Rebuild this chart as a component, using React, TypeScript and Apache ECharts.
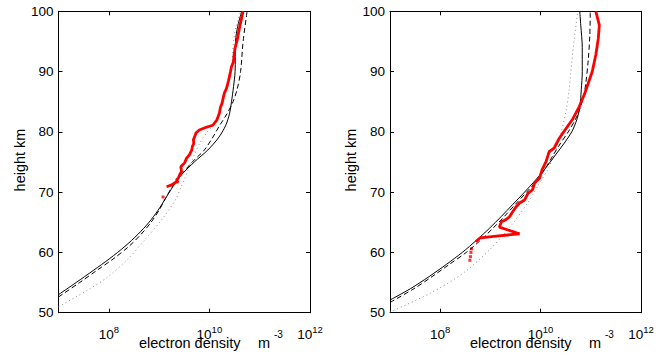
import React, { useEffect, useRef } from "react";
import * as echarts from "echarts";

// ---- data: [electron density m^-3, height km] ----
const leftSolid: [number, number][] = [
  [1.0e7, 53.0], [2.24e7, 55.0], [4.9e7, 57.0], [1.05e8, 59.0], [2.09e8, 61.0],
  [3.8e8, 63.0], [6.31e8, 65.0], [9.55e8, 67.0], [1.35e9, 69.0], [1.91e9, 71.0],
  [2.88e9, 73.0], [5.01e9, 75.0], [9.33e9, 77.0], [1.51e10, 79.0], [2.09e10, 81.0],
  [2.51e10, 83.0], [2.75e10, 85.0], [3.02e10, 87.5], [3.24e10, 90.0], [3.3e10, 95.0],
  [3.7e10, 97.7], [4.4e10, 100.0],
];
const leftDashed: [number, number][] = [
  [1.0e7, 52.6], [1.17e7, 53.0], [2.63e7, 55.0], [5.75e7, 57.0], [1.26e8, 59.0],
  [2.51e8, 61.0], [4.37e8, 63.0], [6.92e8, 65.0], [1.0e9, 67.0], [1.35e9, 69.0],
  [1.86e9, 71.0], [2.82e9, 73.0], [4.57e9, 75.0], [7.94e9, 77.0], [1.15e10, 79.0],
  [1.58e10, 81.0], [2.24e10, 83.0], [2.95e10, 85.0], [3.55e10, 87.0], [4.17e10, 90.0],
  [4.68e10, 95.0], [5.62e10, 100.0],
];
const leftDotted: [number, number][] = [
  [1.0e7, 51.0], [3.9e7, 53.8], [9.8e7, 56.0], [2.45e8, 59.0], [5.2e8, 62.1],
  [1.12e9, 65.4], [2.1e9, 68.7], [2.75e9, 70.9], [3.16e9, 72.0], [3.89e9, 74.0],
  [4.9e9, 76.0], [6.31e9, 78.0], [9.12e9, 80.0], [1.15e10, 81.0], [1.45e10, 82.5],
  [1.74e10, 85.0], [2.69e10, 90.0], [3.02e10, 95.0], [3.39e10, 97.5], [4.17e10, 100.0],
];
const leftRed: [number, number][] = [
  [1.41e9, 70.9], [1.78e9, 71.2], [2.1e9, 71.6], [2.4e9, 71.7], [2.2e9, 72.0],
  [2.4e9, 72.3], [2.6e9, 73.0], [2.8e9, 73.4], [2.7e9, 74.2], [3.24e9, 74.9],
  [3.5e9, 75.6], [4.0e9, 76.2], [4.47e9, 77.0], [4.6e9, 77.6], [4.9e9, 78.1],
  [4.8e9, 78.7], [5.1e9, 79.2], [5.4e9, 79.8], [6.3e9, 80.3], [8.9e9, 80.8],
  [1.17e10, 81.1], [1.41e10, 82.0], [1.5e10, 82.6], [1.58e10, 83.1], [1.65e10, 84.0],
  [1.78e10, 84.7], [1.9e10, 85.8], [2.0e10, 86.5], [2.19e10, 87.2], [2.4e10, 88.5],
  [2.63e10, 90.0], [2.75e10, 90.8], [3.0e10, 91.6], [3.1e10, 92.8], [3.24e10, 93.9],
  [3.63e10, 95.5], [3.8e10, 96.5], [4.07e10, 97.7], [4.4e10, 99.0], [4.68e10, 100.0],
];
const leftRedDots: [number, number][] = [[1.2e9, 69.2]];

const rightSolid: [number, number][] = [
  [1.0e7, 52.1], [2.57e7, 54.0], [6.03e7, 56.0], [1.32e8, 58.0], [2.75e8, 60.0],
  [5.25e8, 62.0], [9.55e8, 64.0], [1.66e9, 66.0], [2.82e9, 68.0], [4.79e9, 70.0],
  [7.94e9, 72.0], [1.26e10, 74.0], [1.91e10, 76.0], [2.88e10, 78.0], [4.17e10, 80.0],
  [5.25e10, 82.0], [6.03e10, 84.0], [6.46e10, 87.0], [6.76e10, 90.0], [6.76e10, 94.0],
  [6.31e10, 97.7], [6.03e10, 100.0],
];
const rightDashed: [number, number][] = [
  [1.0e7, 51.7], [3.02e7, 54.0], [6.92e7, 56.0], [1.51e8, 58.0], [3.31e8, 60.0],
  [6.31e8, 62.0], [1.12e9, 64.0], [1.91e9, 66.0], [3.16e9, 68.0], [5.25e9, 70.0],
  [8.51e9, 72.0], [1.26e10, 74.0], [1.74e10, 76.0], [2.45e10, 78.0], [3.55e10, 80.0],
  [4.9e10, 82.0], [6.17e10, 84.0], [7.24e10, 86.0], [7.94e10, 88.0], [8.91e10, 92.0],
  [9.55e10, 96.0], [9.77e10, 100.0],
];
const rightDotted: [number, number][] = [
  [1.0e7, 50.1], [6.2e7, 53.2], [2.8e8, 56.5], [9.5e8, 60.4], [2.8e9, 64.8],
  [6.0e9, 68.7], [9.5e9, 71.5], [1.48e10, 74.2], [2.34e10, 78.7], [3.24e10, 83.6],
  [3.7e10, 87.0], [4.0e10, 90.0], [4.7e10, 95.5], [5.5e10, 100.0],
];
const rightRed: [number, number][] = [
  [5.1e8, 61.8], [6.2e8, 62.4], [1.32e9, 62.7], [3.8e9, 63.1], [1.51e9, 64.2],
  [1.66e9, 65.1], [2.0e9, 65.4], [2.4e9, 65.9], [2.8e9, 66.8], [3.2e9, 67.5],
  [3.8e9, 68.2], [4.8e9, 68.7], [5.6e9, 69.8], [6.9e9, 70.4], [7.6e9, 71.5],
  [9.5e9, 72.3], [1.07e10, 73.7], [1.29e10, 75.1], [1.48e10, 76.7], [1.86e10, 77.3],
  [2.34e10, 78.9], [3.24e10, 80.6], [4.27e10, 82.0], [5.9e10, 84.2], [7.6e10, 86.4],
  [1.07e11, 90.0], [1.26e11, 92.8], [1.41e11, 95.5], [1.48e11, 97.7], [1.26e11, 100.0],
];
const rightRedDots: [number, number][] = [
  [3.9e8, 58.7], [4.0e8, 59.3], [4.1e8, 60.0], [4.2e8, 60.6],
];

const xTickValues = [1e8, 1e10, 1e12];
const yTicks = { min: 50, max: 100, interval: 10 };
const xRange = { min: 1e7, max: 1e12 };

const FONT = "'Liberation Sans', Arial, Helvetica, sans-serif";

export default function App() {
  const ref = useRef<HTMLDivElement>(null);
  useEffect(() => {
    if (!ref.current) return;
    const chart = echarts.init(ref.current, null, { renderer: "svg" });
    const grids = [
      { left: 58.5, top: 11.3, width: 251.5, height: 301.4 },
      { left: 390, top: 11.3, width: 251, height: 301.4 },
    ];
    const xAxes: any[] = [];
    const yAxes: any[] = [];
    grids.forEach((_, gi) => {
      ["bottom", "top"].forEach((pos) => {
        xAxes.push({
          type: "log",
          logBase: 10,
          gridIndex: gi,
          position: pos,
          min: xRange.min,
          max: xRange.max,
          axisLine: { show: true, onZero: false, lineStyle: { color: "#000", width: 1 } },
          axisTick: { show: true, inside: true, length: 4, customValues: xTickValues, lineStyle: { color: "#000" } },
          splitLine: { show: false },
          minorTick: { show: false },
          axisLabel: {
            show: pos === "bottom",
            customValues: xTickValues,
            margin: 12,
            formatter: (v: number) => `{b|10}{s|${Math.round(Math.log10(v))}}`,
            rich: {
              b: { fontSize: 13.5, fontFamily: FONT, color: "#000", lineHeight: 12, verticalAlign: "bottom" },
              s: { fontSize: 9.5, fontFamily: FONT, color: "#000", padding: [0, 0, 7, 0], verticalAlign: "top" },
            },
          },
        });
      });
      ["left", "right"].forEach((pos) => {
        yAxes.push({
          type: "value",
          gridIndex: gi,
          position: pos,
          min: yTicks.min,
          max: yTicks.max,
          interval: yTicks.interval,
          axisLine: { show: true, onZero: false, lineStyle: { color: "#000", width: 1 } },
          axisTick: { show: true, inside: true, length: 4, lineStyle: { color: "#000" } },
          splitLine: { show: false },
          axisLabel: {
            show: pos === "left",
            margin: 5,
            fontSize: 13.5,
            fontFamily: FONT,
            color: "#000",
          },
        });
      });
    });

    const mk = (gi: number, solid: any, dashed: any, dotted: any, red: any, dots: any) => {
      const ax = { xAxisIndex: gi * 2, yAxisIndex: gi * 2 };
      return [
        { type: "line", ...ax, data: dotted, showSymbol: false, smooth: 0.3, lineStyle: { color: "#8a8a8a", width: 1, type: [1, 3] } },
        { type: "line", ...ax, data: dashed, showSymbol: false, smooth: 0.3, lineStyle: { color: "#000", width: 1, type: [5, 3] } },
        { type: "line", ...ax, data: solid, showSymbol: false, smooth: 0.3, lineStyle: { color: "#000", width: 1 } },
        { type: "line", ...ax, data: red, showSymbol: false, lineStyle: { color: "#ff0000", width: 2.8 } },
        { type: "scatter", ...ax, data: dots, symbol: "rect", symbolSize: 3, itemStyle: { color: "#ff0000" } },
      ];
    };

    const labelTexts = (dx: number) => [
      { type: "text", left: 139 + dx, top: 335, style: { text: "electron density", font: `14.5px ${FONT}`, fill: "#000" } },
      { type: "text", left: 258 + dx, top: 335, style: { text: "m", font: `14.5px ${FONT}`, fill: "#000" } },
      { type: "text", left: 274 + dx, top: 329, style: { text: "-3", font: `10px ${FONT}`, fill: "#000" } },
      {
        type: "text",
        x: 20 + dx,
        y: 160,
        rotation: Math.PI / 2,
        style: { text: "height km", font: `14.5px ${FONT}`, fill: "#000", align: "center", verticalAlign: "middle" },
      },
    ];

    chart.setOption({
      animation: false,
      backgroundColor: "#fff",
      grid: grids.map((g) => ({ ...g, outerBoundsMode: "none", containLabel: false })),
      xAxis: xAxes,
      yAxis: yAxes,
      series: [
        ...mk(0, leftSolid, leftDashed, leftDotted, leftRed, leftRedDots),
        ...mk(1, rightSolid, rightDashed, rightDotted, rightRed, rightRedDots),
      ],
      graphic: [...labelTexts(0), ...labelTexts(331)],
    });
    return () => chart.dispose();
  }, []);
  return <div ref={ref} style={{ position: "fixed", left: 0, top: 0, width: 665, height: 353 }} />;
}
